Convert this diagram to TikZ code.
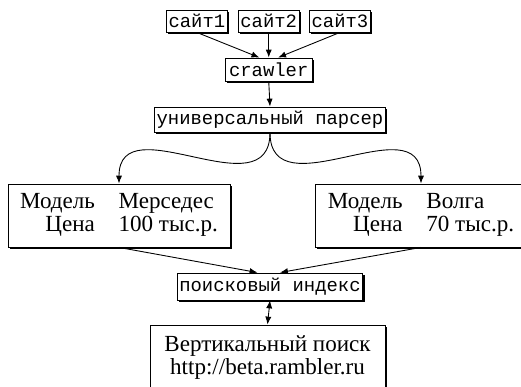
\documentclass[tikz,border=0pt]{standalone}
\usepackage{fontspec}
\setmainfont{Liberation Serif}
\setmonofont{Liberation Mono}
\usetikzlibrary{shadows,arrows.meta}

\begin{document}
\begin{tikzpicture}[>={Latex[length=3.6pt,width=2.8pt]},
  box/.style={draw=boxcolor,thin,fill=fillcolor,inner sep=1pt,
    drop shadow={shadow xshift=0.8pt,shadow yshift=-0.8pt,opacity=1,fill=boxcolor}},
  ttbox/.style={box,font=\fontsize{8.6}{9}\selectfont\ttfamily},
  rmbox/.style={box,font=\fontsize{10.5}{10.5}\selectfont}]
\definecolor{fillcolor}{RGB}{255,255,255}
\definecolor{boxcolor}{RGB}{0,0,0}
\definecolor{pathcolor}{RGB}{0,0,0}
\useasboundingbox (0,0) rectangle (8.336,6.192);
\node [ttbox,minimum width=0.96cm,minimum height=0.352cm] (site1) at (3.15,5.856) {сайт1};
\node [ttbox,minimum width=0.96cm,minimum height=0.352cm] (site2) at (4.30,5.856) {сайт2};
\node [ttbox,minimum width=0.96cm,minimum height=0.352cm] (site3) at (5.44,5.856) {сайт3};
\node [ttbox,minimum width=1.392cm,minimum height=0.368cm] (crawler) at (4.30,5.08) {crawler};
\node [ttbox,minimum width=3.616cm,minimum height=0.40cm] (parser) at (4.32,4.28) {универсальный парсер};
\node [rmbox,minimum width=3.552cm,minimum height=1.008cm] (model1) at (1.904,2.744)
  {\begin{tabular}{@{}r@{\hspace{0.38cm}}l@{}}Модель & Мерседес\\ Цена & 100 тыс.р.\end{tabular}};
\node [rmbox,minimum width=3.392cm,minimum height=1.008cm] (model2) at (6.736,2.744)
  {\begin{tabular}{@{}r@{\hspace{0.38cm}}l@{}}Модель & Волга\\ Цена & 70 тыс.р.\end{tabular}};
\node [ttbox,minimum width=2.944cm,minimum height=0.432cm] (index) at (4.32,1.608) {поисковый индекс};
\node [rmbox,minimum width=3.76cm,minimum height=1.04cm,align=center] (search) at (4.28,0.472)
  {Вертикальный поиск\\http://beta.rambler.ru};
\draw [->,pathcolor] (site1.south) -- ([xshift=-0.15cm]crawler.north);
\draw [->,pathcolor] (site2.south) -- (crawler.north);
\draw [->,pathcolor] (site3.south) -- ([xshift=0.15cm]crawler.north);
\draw [->,pathcolor] (crawler.south) -- (parser.north);
\draw [->,pathcolor] (parser.south) .. controls +(0,-1.28) and +(0,1.28) .. (model1.north);
\draw [->,pathcolor] (parser.south) .. controls +(0,-1.28) and +(0,1.28) .. (model2.north);
\draw [->,pathcolor] (model1.south) -- ([xshift=-0.2cm]index.north);
\draw [->,pathcolor] (model2.south) -- ([xshift=0.16cm]index.north);
\draw [<->,pathcolor] (index.south) -- (search.north);
\end{tikzpicture}
\end{document}
